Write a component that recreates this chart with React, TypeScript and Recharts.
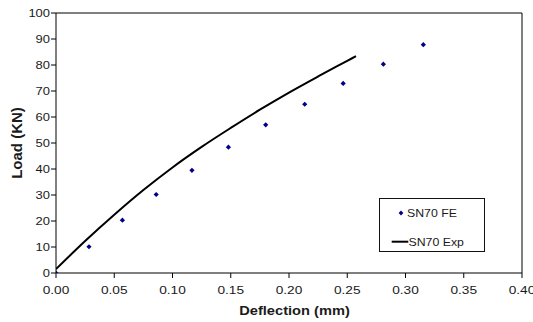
import React from 'react';
import { ComposedChart, Line, Scatter, XAxis, YAxis, ReferenceLine, Legend } from 'recharts';

const xTicks = [0, 0.05, 0.1, 0.15, 0.2, 0.25, 0.3, 0.35, 0.4];
const yTicks = [0, 10, 20, 30, 40, 50, 60, 70, 80, 90, 100];

const feDeflection = [0, 0.0283, 0.057, 0.086, 0.1167, 0.148, 0.18, 0.2135, 0.2465, 0.281, 0.3153];
const feLoad = [0, 10.1, 20.3, 30.2, 39.5, 48.4, 57.0, 64.9, 72.9, 80.3, 87.8];

const expDeflection = [0, 0.025, 0.05, 0.075, 0.1, 0.125, 0.15, 0.175, 0.2, 0.225, 0.25, 0.2575];
const expLoad = [1.5, 12.3, 22.4, 31.9, 40.6, 48.5, 55.8, 62.8, 69.4, 75.6, 81.6, 83.4];

const feData = feDeflection.map((x, i) => ({ x, y: feLoad[i] }));
const expData = expDeflection.map((x, i) => ({ x, y: expLoad[i] }));

const FONT = '"Liberation Sans", Arial, Helvetica, sans-serif';
const TEXT = '#1a1a1a';

const XTick = (props: any) => {
  const { x, y, payload } = props;
  return (
    <text
      transform={`translate(${x},${y}) scale(1.19,1)`}
      textAnchor="middle"
      y={14.3}
      fontSize={11.5}
      fontFamily={FONT}
      fill={TEXT}
    >
      {Number(payload.value).toFixed(2)}
    </text>
  );
};

const YTick = (props: any) => {
  const { x, y, payload } = props;
  return (
    <text
      transform={`translate(${x},${y}) scale(1.27,1)`}
      textAnchor="end"
      y={3.6}
      fontSize={10.2}
      fontFamily={FONT}
      fill={TEXT}
    >
      {payload.value}
    </text>
  );
};

const Diamond = (props: any) => {
  const { cx, cy } = props;
  if (cx == null || cy == null) return null;
  const r = 2.6;
  return (
    <polygon
      points={`${cx},${cy - r} ${cx + r},${cy} ${cx},${cy + r} ${cx - r},${cy}`}
      fill="#00008b"
    />
  );
};

const LegendBox = () => (
  <svg width={106} height={54} style={{ display: 'block' }}>
    <rect x={0.5} y={0.5} width={105} height={53} fill="none" stroke="#111" strokeWidth={1} />
    <polygon points="22,12.6 24.4,15 22,17.4 19.6,15" fill="#00008b" />
    <text transform="translate(28,19.3) scale(1.12,1)" fontSize={11} fontFamily={FONT} fill={TEXT}>
      SN70 FE
    </text>
    <line x1={12.7} x2={29.3} y1={43.7} y2={43.7} stroke="#000" strokeWidth={2} />
    <text transform="translate(29.5,47.5) scale(1.12,1)" fontSize={11} fontFamily={FONT} fill={TEXT}>
      SN70 Exp
    </text>
  </svg>
);

export default function App() {
  return (
    <div style={{ position: 'absolute', left: 0, top: 0, width: 533, height: 322, background: '#fff' }}>
      <ComposedChart
        width={533}
        height={322}
        margin={{ top: 13, right: 11, left: 0, bottom: 0 }}
      >
        <XAxis
          type="number"
          dataKey="x"
          domain={[0, 0.4]}
          ticks={xTicks}
          allowDataOverflow
          stroke="#000"
          tickSize={5}
          tickMargin={2}
          height={49}
          tick={<XTick />}
        />
        <YAxis
          type="number"
          dataKey="y"
          domain={[0, 100]}
          ticks={yTicks}
          allowDataOverflow
          stroke="#000"
          tickSize={5}
          tickMargin={1}
          width={56}
          tick={<YTick />}
        />
        <ReferenceLine y={100} stroke="#000" strokeWidth={1} />
        <ReferenceLine x={0.4} stroke="#000" strokeWidth={1} />
        <Line
          data={expData}
          dataKey="y"
          type="monotone"
          stroke="#000"
          strokeWidth={2}
          dot={false}
          activeDot={false}
          isAnimationActive={false}
          legendType="none"
        />
        <Scatter
          data={feData}
          dataKey="y"
          fill="#00008b"
          shape={<Diamond />}
          isAnimationActive={false}
        />
        <Legend
          layout="vertical"
          align="center"
          verticalAlign="middle"
          content={() => <LegendBox />}
          wrapperStyle={{ position: 'absolute', left: 379, top: 198, width: 106, height: 54 }}
        />
      </ComposedChart>
      <svg
        width={533}
        height={322}
        style={{ position: 'absolute', left: 0, top: 0, pointerEvents: 'none' }}
      >
        <text
          transform="translate(21.5,143) rotate(-90)"
          textAnchor="middle"
          fontSize={15}
          fontWeight="bold"
          fontFamily={FONT}
          fill={TEXT}
        >
          Load (KN)
        </text>
        <text
          transform="translate(294.5,314.5) scale(1.22,1)"
          textAnchor="middle"
          fontSize={12}
          fontWeight="bold"
          fontFamily={FONT}
          fill={TEXT}
        >
          Deflection (mm)
        </text>
      </svg>
    </div>
  );
}
